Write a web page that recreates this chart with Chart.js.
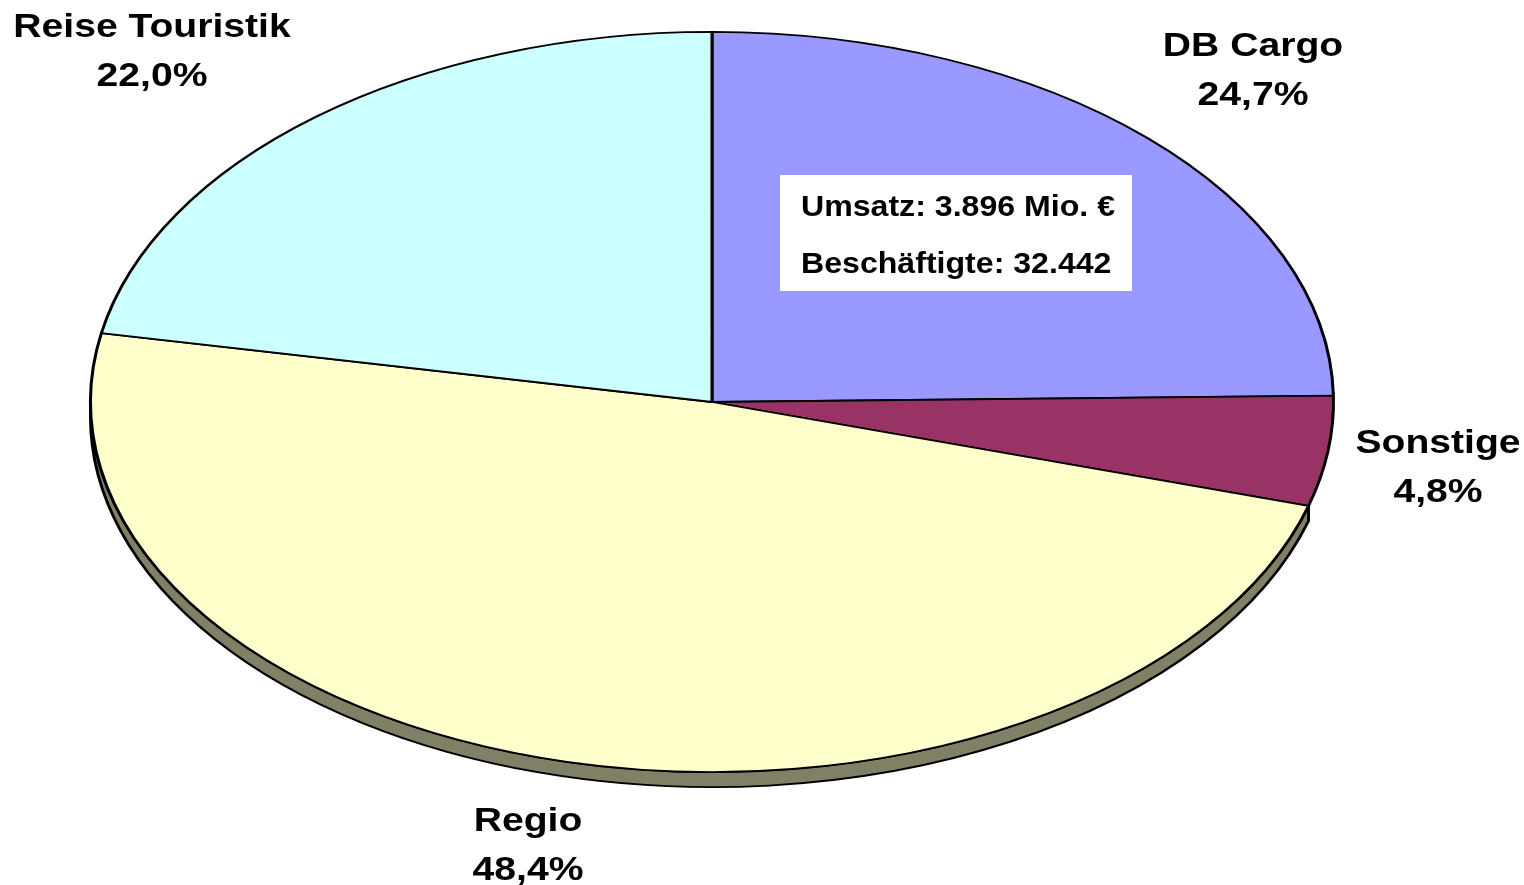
<!DOCTYPE html>
<html lang="de">
<head>
  <meta charset="UTF-8">
  <title>Umsatzanteile</title>
  <script src="https://cdn.jsdelivr.net/npm/chart.js"></script>
  <style>
    html, body { margin: 0; padding: 0; background: #fff; }
    #wrap { width: 1524px; height: 885px; }
  </style>
</head>
<body>
  <div id="wrap"><canvas id="chart" width="1524" height="885"></canvas></div>

  <script>
    // data
    const segments = ["DB Cargo", "Sonstige", "Regio", "Reise Touristik"];
    const shares = [24.7, 4.8, 48.4, 22.0];
    const colors = ["#9999ff", "#993366", "#ffffcc", "#ccffff"];
    const sideColors = ["#5c5c99", "#5c1f3d", "#808066", "#7a9999"];
    const infoLines = ["Umsatz: 3.896 Mio. €", "Beschäftigte: 32.442"];

    // where the labels sit (layout, not data)
    const labelPos = [[1253, 47], [1438, 444], [528, 822], [152, 28]];

    const CX = 712, CY = 402;
    const RX = 623, RY = 371;
    const DEPTH = 15;
    const SX = RX / RY;
    const FONT = "bold 34px 'Liberation Sans', Arial, sans-serif";

    function pct(v) {
      return v.toFixed(1).replace(".", ",") + "%";
    }

    function stretchText(ctx, txt, x, y, align, sx) {
      ctx.save();
      ctx.translate(x, y);
      ctx.scale(sx, 1);
      ctx.textAlign = align;
      ctx.fillText(txt, 0, 0);
      ctx.restore();
    }

    const ellipsePlugin = {
      id: "ellipse",
      beforeDatasetsDraw(chart) {
        const ctx = chart.ctx;
        const arcs = chart.getDatasetMeta(0).data;
        const cx = arcs[0].x, cy = arcs[0].y, r = arcs[0].outerRadius;
        ctx.save();
        ctx.translate(cx, cy);
        ctx.scale(SX, 1);
        ctx.translate(-cx, -cy);
        // side wall of the disc
        arcs.forEach((a, i) => {
          let s = a.startAngle, e = a.endAngle;
          const two = Math.PI * 2;
          while (s < 0) { s += two; e += two; }
          while (s >= two) { s -= two; e -= two; }
          const lo = Math.max(s, 0), hi = Math.min(e, Math.PI);
          if (hi <= lo) return;
          ctx.beginPath();
          ctx.arc(cx, cy + DEPTH, r, lo, hi);
          ctx.arc(cx, cy, r, hi, lo, true);
          ctx.closePath();
          ctx.fillStyle = sideColors[i];
          ctx.fill();
          ctx.lineWidth = 1.8;
          ctx.strokeStyle = "#000";
          ctx.stroke();
        });
      },
      afterDatasetsDraw(chart) {
        chart.ctx.restore();
      },
      afterDraw(chart) {
        const ctx = chart.ctx;
        ctx.save();
        ctx.fillStyle = "#000";
        ctx.font = FONT;
        ctx.textBaseline = "middle";
        segments.forEach((name, i) => {
          const [x, y] = labelPos[i];
          stretchText(ctx, name, x, y, "center", 1.15);
          stretchText(ctx, pct(shares[i]), x, y + 49, "center", 1.15);
        });
        // info box
        ctx.fillStyle = "#fff";
        ctx.fillRect(780, 175, 352, 116);
        ctx.fillStyle = "#000";
        ctx.font = "bold 30px 'Liberation Sans', Arial, sans-serif";
        ctx.textBaseline = "alphabetic";
        stretchText(ctx, infoLines[0], 801, 216, "left", 1.07);
        stretchText(ctx, infoLines[1], 801, 273, "left", 1.07);
        ctx.restore();
      }
    };

    new Chart(document.getElementById("chart"), {
      type: "pie",
      data: {
        labels: segments,
        datasets: [{
          data: shares,
          backgroundColor: colors,
          borderColor: "#000",
          borderWidth: 1.8,
          hoverOffset: 0
        }]
      },
      options: {
        responsive: false,
        animation: false,
        layout: { padding: { left: 300, right: 400, top: 31, bottom: 112 } },
        plugins: { legend: { display: false }, tooltip: { enabled: false } }
      },
      plugins: [ellipsePlugin]
    });
  </script>
</body>
</html>
